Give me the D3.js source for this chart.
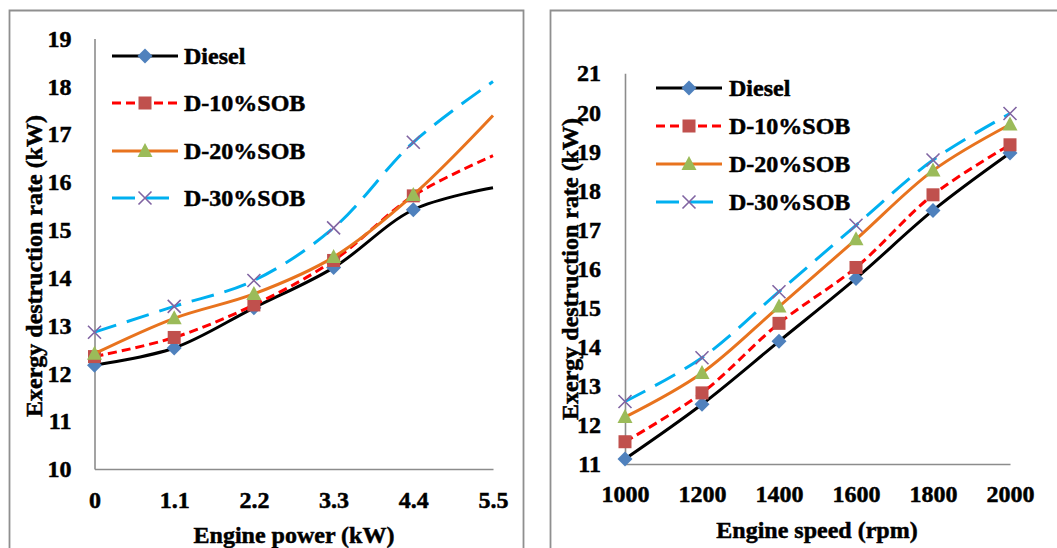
<!DOCTYPE html>
<html>
<head>
<meta charset="utf-8">
<script src="https://cdn.jsdelivr.net/npm/d3@7"></script>
<style>
  body { margin: 0; background: #fff; }
  svg { display: block; }
  text { font-family: "Liberation Serif", "Times New Roman", serif; font-weight: bold; fill: #000; stroke: #000; stroke-width: 0.5px; }
</style>
</head>
<body>
<div class="chart"></div>
<script>
// ---- data ----
const seriesNames = ["Diesel", "D-10%SOB", "D-20%SOB", "D-30%SOB"];

const powerX = [0, 1.1, 2.2, 3.3, 4.4, 5.5];
const powerXLabels = ["0", "1.1", "2.2", "3.3", "4.4", "5.5"];
const powerYTicks = [10, 11, 12, 13, 14, 15, 16, 17, 18, 19];
const dieselPower = [12.17, 12.53, 13.37, 14.21, 15.42, 15.88];
const sob10Power = [12.35, 12.75, 13.43, 14.36, 15.71, 16.55];
const sob20Power = [12.41, 13.15, 13.66, 14.43, 15.73, 17.39];
const sob30Power = [12.86, 13.40, 13.94, 15.04, 16.83, 18.10];

const speedX = [1000, 1200, 1400, 1600, 1800, 2000];
const speedXLabels = ["1000", "1200", "1400", "1600", "1800", "2000"];
const speedYTicks = [11, 12, 13, 14, 15, 16, 17, 18, 19, 20, 21];
const dieselSpeed = [11.13, 12.53, 14.14, 15.75, 17.49, 18.96];
const sob10Speed = [11.57, 12.82, 14.60, 16.03, 17.89, 19.17];
const sob20Speed = [12.20, 13.33, 15.03, 16.75, 18.51, 19.69];
const sob30Speed = [12.60, 13.72, 15.41, 17.11, 18.78, 19.97];

const width = 1057;
const height = 548;

// series look (Excel default palette)
const styles = [
  { stroke: "#000000", dash: null, marker: "diamond", fill: "#4F81BD" },
  { stroke: "#FF0000", dash: "9,5", marker: "square", fill: "#C0504D" },
  { stroke: "#E8731E", dash: null, marker: "triangle", fill: "#9BBB59" },
  { stroke: "#00B0F0", dash: "23,11", marker: "cross", fill: "#8064A2" }
];

let svg = d3.select(".chart")
  .append("svg")
  .attr("width", width)
  .attr("height", height)
  .attr("viewBox", `0 0 ${width} ${height}`);

function drawMarker(g, shape, fill, x, y) {
  if (shape === "diamond") {
    g.append("path")
      .attr("d", `M${x},${y - 7.5}L${x + 7.5},${y}L${x},${y + 7.5}L${x - 7.5},${y}Z`)
      .attr("fill", fill);
  } else if (shape === "square") {
    g.append("rect")
      .attr("x", x - 6.5).attr("y", y - 6.5)
      .attr("width", 13).attr("height", 13)
      .attr("fill", fill);
  } else if (shape === "triangle") {
    g.append("path")
      .attr("d", `M${x},${y - 8}L${x + 7.5},${y + 6}L${x - 7.5},${y + 6}Z`)
      .attr("fill", fill);
  } else {
    g.append("path")
      .attr("d", `M${x - 6.5},${y - 6.5}L${x + 6.5},${y + 6.5}M${x - 6.5},${y + 6.5}L${x + 6.5},${y - 6.5}`)
      .attr("stroke", fill)
      .attr("stroke-width", 1.6)
      .attr("fill", "none");
  }
}

function drawPanel(p) {
  // panel frame (bottom edge runs off the picture)
  svg.append("path")
    .attr("d", `M${p.frame[0]},${height + 5}V${p.frame[1]}H${p.frame[2]}V${height + 5}`)
    .attr("fill", "none")
    .attr("stroke", "#8f8f8f")
    .attr("stroke-width", 1.8);

  const x = d3.scaleLinear().domain(p.xDomain).range(p.xRange);
  const y = d3.scaleLinear().domain(p.yDomain).range(p.yRange);

  const xAxis = svg.append("g")
    .attr("transform", `translate(0,${p.yRange[0]})`)
    .call(d3.axisBottom(x).tickValues(p.xVals).tickFormat((d, i) => p.xLabels[i])
      .tickSize(0).tickPadding(p.xPad));
  const yAxis = svg.append("g")
    .attr("transform", `translate(${p.xRange[0]},0)`)
    .call(d3.axisLeft(y).tickValues(p.yTicks).tickFormat(d3.format("d"))
      .tickSize(0).tickPadding(p.yPad));

  [xAxis, yAxis].forEach(a => {
    a.select(".domain").attr("stroke", "#8c8c8c").attr("stroke-width", 1.6);
    a.selectAll("text")
      .attr("font-family", "Liberation Serif")
      .attr("font-weight", "bold")
      .attr("font-size", 24)
      .attr("fill", "#000");
  });

  svg.append("text")
    .attr("x", p.xTitlePos[0])
    .attr("y", p.xTitlePos[1])
    .attr("dy", "0.35em")
    .attr("text-anchor", "middle")
    .attr("font-size", 24)
    .text(p.xTitle);

  svg.append("text")
    .attr("transform", `translate(${p.yTitlePos[0]},${p.yTitlePos[1]}) rotate(-90)`)
    .attr("dy", "0.35em")
    .attr("text-anchor", "middle")
    .attr("font-size", 24)
    .text("Exergy destruction rate (kW)");

  const line = d3.line()
    .x(d => x(d[0]))
    .y(d => y(d[1]))
    .curve(d3.curveCatmullRom.alpha(0.5));

  p.series.forEach((vals, s) => {
    const st = styles[s];
    const pts = p.xVals.map((v, i) => [v, vals[i]]);
    const g = svg.append("g").attr("class", "series");
    g.append("path")
      .attr("d", line(pts))
      .attr("fill", "none")
      .attr("stroke", st.stroke)
      .attr("stroke-width", 3)
      .attr("stroke-dasharray", st.dash);
    pts.filter((d, i) => i < p.markerCount)
      .forEach(d => drawMarker(g, st.marker, st.fill, x(d[0]), y(d[1])));
  });

  // legend
  seriesNames.forEach((name, s) => {
    const st = styles[s];
    const ly = p.legendRows[s];
    const g = svg.append("g");
    g.append("line")
      .attr("x1", p.legendLine[0]).attr("x2", p.legendLine[1])
      .attr("y1", ly).attr("y2", ly)
      .attr("stroke", st.stroke)
      .attr("stroke-width", 3)
      .attr("stroke-dasharray", st.dash);
    drawMarker(g, st.marker, st.fill, (p.legendLine[0] + p.legendLine[1]) / 2, ly);
    g.append("text")
      .attr("x", p.legendText)
      .attr("y", ly)
      .attr("dy", "0.35em")
      .attr("font-size", 24)
      .text(name);
  });
}

drawPanel({
  frame: [9.5, 10.5, 523.5],
  xVals: powerX, xLabels: powerXLabels, yTicks: powerYTicks,
  xDomain: [0, 5.5], xRange: [94.5, 493],
  yDomain: [10, 19], yRange: [469, 38.5],
  xPad: 22, yPad: 23,
  xTitle: "Engine power (kW)", xTitlePos: [294, 535],
  yTitlePos: [34, 266],
  series: [dieselPower, sob10Power, sob20Power, sob30Power],
  markerCount: 5,
  legendRows: [56, 103, 151, 198],
  legendLine: [112, 178], legendText: 184
});

drawPanel({
  frame: [550.5, 10.5, width + 5],
  xVals: speedX, xLabels: speedXLabels, yTicks: speedYTicks,
  xDomain: [1000, 2000], xRange: [625, 1010],
  yDomain: [11, 21], yRange: [464, 73.3],
  xPad: 21, yPad: 24,
  xTitle: "Engine speed (rpm)", xTitlePos: [817, 530],
  yTitlePos: [570, 269],
  series: [dieselSpeed, sob10Speed, sob20Speed, sob30Speed],
  markerCount: 6,
  legendRows: [88, 126, 164, 202],
  legendLine: [656, 722], legendText: 729
});
</script>
</body>
</html>
